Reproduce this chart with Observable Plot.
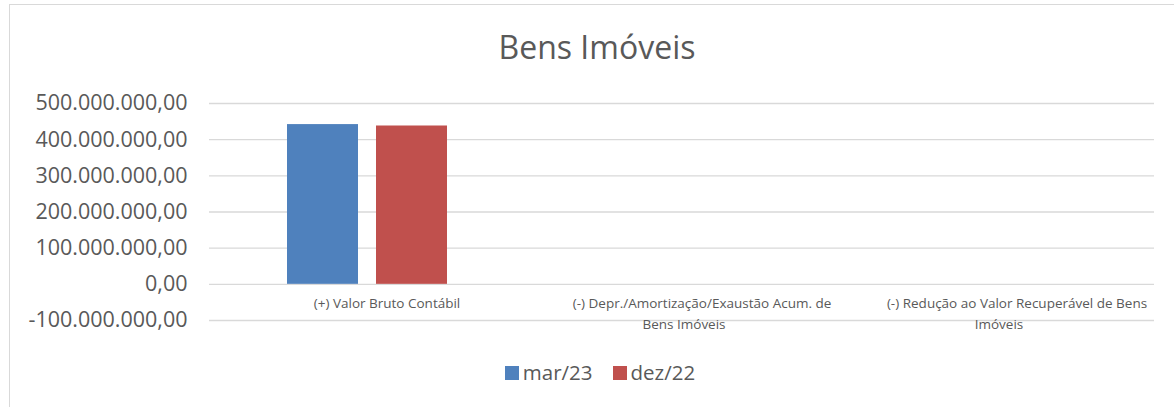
<!DOCTYPE html>
<html>
<head>
<meta charset="utf-8">
<script src="https://cdn.jsdelivr.net/npm/d3@7"></script>
<script src="https://cdn.jsdelivr.net/npm/@observablehq/plot@0.6"></script>
<style>
  html, body { margin: 0; padding: 0; background: #fff; overflow: hidden; }
  #wrap { position: relative; width: 1174px; height: 407px; font-family: "Open Sans", sans-serif; color: #595959; }
  #border { position: absolute; left: 9px; top: 4px; width: 1200px; height: 440px; border: 1px solid #d9d9d9; box-sizing: border-box; }
  #title { position: absolute; left: 0; width: 1194px; top: 25px; text-align: center; font-size: 32px; line-height: 44px; color: #595959; }
  #legend { position: absolute; left: 0; width: 1200px; top: 359px; display: flex; justify-content: center; gap: 20px; font-size: 20.5px; line-height: 26px; }
  #legend .item { display: flex; align-items: center; gap: 4px; }
  #legend .sw { width: 14px; height: 14px; display: inline-block; margin-top: 2px; }
  #chart { position: absolute; left: 0; top: 0; }
</style>
</head>
<body>
<div id="wrap">
  <div id="border"></div>
  <div id="chart"></div>
  <div id="title"></div>
  <div id="legend"></div>
</div>
<script>
const title = "Bens Imóveis";
const categories = [
  "(+) Valor Bruto Contábil",
  "(-) Depr./Amortização/Exaustão Acum. de Bens Imóveis",
  "(-) Redução ao Valor Recuperável de Bens Imóveis"
];
const labelLine1 = [
  "(+) Valor Bruto Contábil",
  "(-) Depr./Amortização/Exaustão Acum. de",
  "(-) Redução ao Valor Recuperável de Bens"
];
const labelLine2 = ["", "Bens Imóveis", "Imóveis"];
const series = ["mar/23", "dez/22"];
const colors = ["#4F81BD", "#C0504D"];
const valuesMar23 = [441700000, 0, 0];
const valuesDez22 = [437800000, 0, 0];
const yTicks = [-100000000, 0, 100000000, 200000000, 300000000, 400000000, 500000000];

const data = [];
categories.forEach((c, i) => {
  data.push({category: c, series: series[0], value: valuesMar23[i]});
  data.push({category: c, series: series[1], value: valuesDez22[i]});
});
const labelData = categories.map((c, i) => ({category: c, line1: labelLine1[i], line2: labelLine2[i]}));

const locale = d3.formatLocale({decimal: ",", thousands: ".", grouping: [3], currency: ["R$", ""], minus: "-"});
const fmt = locale.format(",.2f");

const chart = Plot.plot({
  width: 1174,
  height: 407,
  marginLeft: 208,
  marginRight: 19,
  marginTop: 103,
  marginBottom: 87,
  style: {fontFamily: "Open Sans, sans-serif", color: "#595959", background: "transparent", overflow: "visible"},
  fx: {domain: categories, padding: 0, axis: null},
  x: {domain: series, paddingInner: 0.2076, paddingOuter: 0.865, axis: null},
  y: {domain: [-100000000, 500000000], ticks: yTicks, label: null},
  color: {domain: series, range: colors},
  marks: [
    Plot.ruleY(yTicks, {stroke: "#d9d9d9", strokeWidth: 1.3}),
    Plot.barY(data, {fx: "category", x: "series", y: "value", fill: "series"}),
    Plot.axisY({ticks: yTicks, tickFormat: fmt, tickSize: 0, tickPadding: 22, fontSize: 21.5, label: null, fill: "#595959"}),
    Plot.text(labelData, {fx: "category", y: () => 0, text: "line1", textAnchor: "middle", dy: 19, dx: 20, fontSize: 13.5, fill: "#595959"}),
    Plot.text(labelData, {fx: "category", y: () => 0, text: "line2", textAnchor: "middle", dy: 40, dx: 2, fontSize: 13.5, fill: "#595959"})
  ]
});
document.getElementById("chart").appendChild(chart);
document.getElementById("title").textContent = title;
const legend = document.getElementById("legend");
series.forEach((s, i) => {
  const item = document.createElement("div");
  item.className = "item";
  const sw = document.createElement("span");
  sw.className = "sw";
  sw.style.background = colors[i];
  const t = document.createElement("span");
  t.textContent = s;
  item.appendChild(sw);
  item.appendChild(t);
  legend.appendChild(item);
});
</script>
</body>
</html>
